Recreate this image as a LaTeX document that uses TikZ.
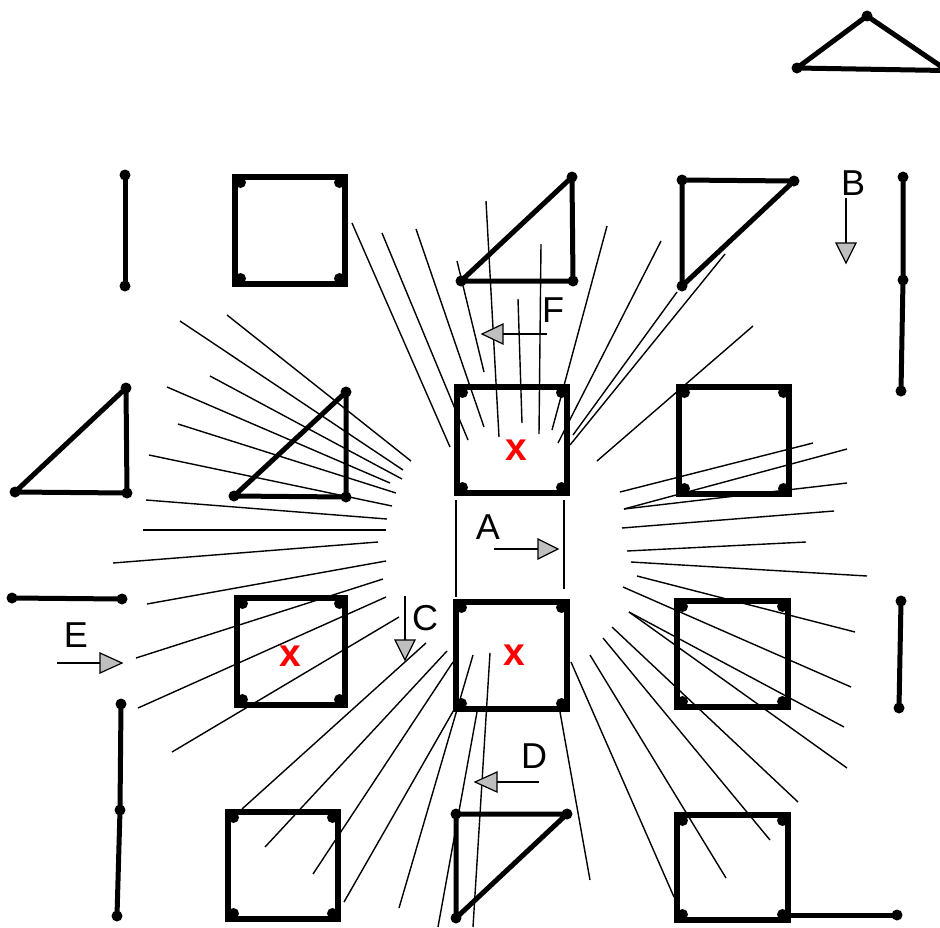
\documentclass[tikz,border=0pt]{standalone}
\usepackage{fontspec}
\setmainfont{Liberation Sans}
\newcommand\mysquare[4]{%
  \draw[sqline] (#1,#2) rectangle (#3,#4);
  \fill (#1+5.5,#2+5.5) circle (5.5pt) (#3-5.5,#2+5.5) circle (5.5pt)
        (#1+5.5,#4-5.5) circle (5.5pt) (#3-5.5,#4-5.5) circle (5.5pt);}
\begin{document}
\begin{tikzpicture}[x=1pt,y=-1pt,
  sqline/.style={line width=5.5pt,line join=miter},
  shapeline/.style={line width=5pt,line join=round},
  ray/.style={line width=1.4pt},
  shaft/.style={line width=1.4pt},
  tiphead/.style={line width=1.2pt,fill=black!25,line join=miter},
  lab/.style={inner sep=0pt,font=\fontsize{36}{40}\selectfont},
  redx/.style={inner sep=0pt,text=red,font=\fontsize{39}{42}\selectfont\bfseries}]
\useasboundingbox (0,0) rectangle (940,927);
\clip (0,0) rectangle (940,927);

% ---- thin rays (top) ----
\draw[ray] (352,223) -- (450,447);
\draw[ray] (382,233) -- (468,440);
\draw[ray] (416,229) -- (484,427);
\draw[ray] (457,261) -- (484,372);
\draw[ray] (486,201) -- (499,437);
\draw[ray] (518,299) -- (522,423);
\draw[ray] (541,244) -- (539,434);
\draw[ray] (607,226) -- (552,430);
\draw[ray] (661,241) -- (558,443);
\draw[ray] (677,292) -- (573,435);
\draw[ray] (725,254) -- (570,445);
\draw[ray] (753,326) -- (597,461);
% ---- thin rays (left) ----
\draw[ray] (227,315) -- (411,461);
\draw[ray] (180,321) -- (403,470);
\draw[ray] (210,376) -- (402,479);
\draw[ray] (167,387) -- (390,483);
\draw[ray] (178,424) -- (396,493);
\draw[ray] (149,455) -- (392,506);
\draw[ray] (146,500) -- (387,519);
\draw[ray] (143,530) -- (386,530);
\draw[ray] (113,563) -- (378,542);
\draw[ray] (147,604) -- (386,561);
\draw[ray] (136,658) -- (383,579);
\draw[ray] (138,708) -- (386,597);
\draw[ray] (172,752) -- (399,617);
% ---- thin rays (bottom) ----
\draw[ray] (426,643) -- (242,809);
\draw[ray] (447,651) -- (265,847);
\draw[ray] (453,662) -- (313,874);
\draw[ray] (455,708) -- (344,902);
\draw[ray] (473,655) -- (399,908);
\draw[ray] (490,653) -- (473,927);
\draw[ray] (477,712) -- (438,927);
% ---- thin rays (right) ----
\draw[ray] (620,492) -- (813,443);
\draw[ray] (624,509) -- (847,449);
\draw[ray] (624,509) -- (847,483);
\draw[ray] (622,528) -- (834,511);
\draw[ray] (627,551) -- (806,542);
\draw[ray] (631,562) -- (867,576);
\draw[ray] (637,576) -- (855,632);
\draw[ray] (623,587) -- (851,687);
\draw[ray] (629,612) -- (844,727);
\draw[ray] (629,612) -- (847,768);
\draw[ray] (612,627) -- (798,802);
\draw[ray] (603,638) -- (770,840);
\draw[ray] (590,655) -- (726,878);
\draw[ray] (571,662) -- (674,897);
\draw[ray] (560,712) -- (590,880);
% ---- A guide lines ----
\draw[ray] (456,500) -- (456,597);
\draw[ray] (564,500) -- (564,589);

% ---- squares ----
\mysquare{235}{177}{345}{284}
\mysquare{457}{387}{567}{493}
\mysquare{679}{387}{789}{494}
\mysquare{237}{598}{345}{705}
\mysquare{456}{602}{567}{709}
\mysquare{677}{601}{788}{707}
\mysquare{228}{812}{338}{919}
\mysquare{677}{815}{788}{920}

% ---- triangles ----
\draw[shapeline] (461,281) -- (572,177) -- (573,281) -- cycle;
\fill (461,281) circle (5.5pt) (572,177) circle (5.5pt) (573,281) circle (5.5pt);
\draw[shapeline] (682,180) -- (794,181) -- (682,286) -- cycle;
\fill (682,180) circle (5.5pt) (794,181) circle (5.5pt) (682,286) circle (5.5pt);
\draw[shapeline] (126,388) -- (15,492) -- (127,493) -- cycle;
\fill (126,388) circle (5.5pt) (15,492) circle (5.5pt) (127,493) circle (5.5pt);
\draw[shapeline] (346,392) -- (234,496) -- (346,497) -- cycle;
\fill (346,392) circle (5.5pt) (234,496) circle (5.5pt) (346,497) circle (5.5pt);
\draw[shapeline] (456,814) -- (567,814) -- (456,918) -- cycle;
\fill (456,814) circle (5.5pt) (567,814) circle (5.5pt) (456,918) circle (5.5pt);
\draw[shapeline] (945,69) -- (867,16) -- (797,68) -- (945,70.5);
\fill (867,16) circle (5.5pt) (797,68) circle (5.5pt);

% ---- segments ----
\draw[shapeline] (125,175) -- (125,286);
\fill (125,175) circle (5.5pt) (125,286) circle (5.5pt);
\draw[shapeline] (903,177) -- (903,280) -- (901,391);
\fill (903,177) circle (5.5pt) (903,280) circle (5.5pt) (901,391) circle (5.5pt);
\draw[shapeline] (12,598) -- (122,599);
\fill (12,598) circle (5.5pt) (122,599) circle (5.5pt);
\draw[shapeline] (121,704) -- (120,810) -- (117,916);
\fill (121,704) circle (5.5pt) (120,810) circle (5.5pt) (117,916) circle (5.5pt);
\draw[shapeline] (901,601) -- (899,708);
\fill (901,601) circle (5.5pt) (899,708) circle (5.5pt);
\draw[shapeline] (788,915) -- (897,915);
\fill (897,915) circle (5.5pt);

% ---- arrows ----
\draw[shaft] (494,549) -- (538,549);
\filldraw[tiphead] (538,539) -- (558,549) -- (538,559) -- cycle;
\draw[shaft] (846,198) -- (846,243);
\filldraw[tiphead] (836,243) -- (846,263) -- (856,243) -- cycle;
\draw[shaft] (405,596) -- (405,640);
\filldraw[tiphead] (395,640) -- (405,660) -- (415,640) -- cycle;
\draw[shaft] (539,782) -- (497,782);
\filldraw[tiphead] (497,772) -- (475,782) -- (497,792) -- cycle;
\draw[shaft] (57,663) -- (100,663);
\filldraw[tiphead] (100,653) -- (122,663) -- (100,673) -- cycle;
\draw[shaft] (547,334) -- (503,334);
\filldraw[tiphead] (503,324) -- (482,334) -- (503,344) -- cycle;

% ---- labels ----
\node[lab] (labA) at (488,527) {A};
\node[lab] (labB) at (853,183) {B};
\node[lab] (labC) at (425,618) {C};
\node[lab] (labD) at (534,756) {D};
\node[lab] (labE) at (76,635) {E};
\node[lab] (labF) at (553,310) {F};
\node[redx] (x1) at (516,450) {x};
\node[redx] (x2) at (290,656) {x};
\node[redx] (x3) at (514,655) {x};
\end{tikzpicture}
\end{document}
